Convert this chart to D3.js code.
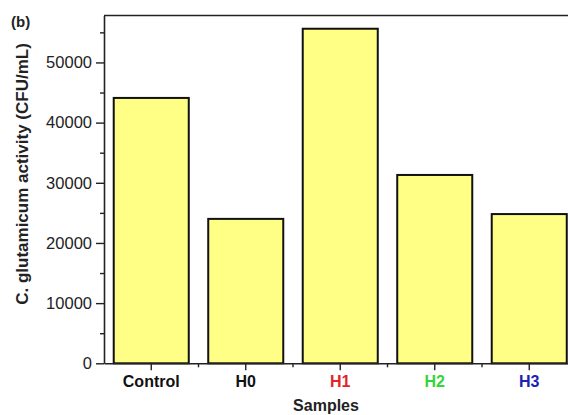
<!DOCTYPE html>
<html>
<head>
<meta charset="utf-8">
<script src="https://cdn.jsdelivr.net/npm/d3@7"></script>
<style>
  html, body { margin: 0; padding: 0; background: #fff; }
  svg { display: block; font-family: "Liberation Sans", Arial, sans-serif; }
</style>
</head>
<body>
<svg id="chart" width="568" height="415"></svg>
<script>
// Viable cell counts per sample
const samples = ["Control", "H0", "H1", "H2", "H3"];
const activity = [44100, 24000, 55600, 31300, 24800];
const labelColors = ["#111111", "#111111", "#e0242a", "#35d43a", "#1c22b4"];
const yTicks = [0, 10000, 20000, 30000, 40000, 50000];
const yMinorTicks = [5000, 15000, 25000, 35000, 45000, 55000];

(function () {
  const svg = d3.select("#chart");
  const plotLeft = 104, plotTop = 15.5, plotBottom = 363.3, plotRight = 576.5;

  const x = d3.scaleBand()
    .domain(samples)
    .range([plotLeft, plotRight])
    .paddingInner(0.206)
    .paddingOuter(0.103);

  const y = d3.scaleLinear()
    .domain([0, 57800])
    .range([plotBottom, plotTop]);

  // bars
  svg.append("g")
    .selectAll("rect")
    .data(samples)
    .join("rect")
    .attr("x", d => x(d))
    .attr("y", (d, i) => y(activity[i]))
    .attr("width", x.bandwidth())
    .attr("height", (d, i) => y(0) - y(activity[i]))
    .attr("fill", "#ffff86")
    .attr("stroke", "#111")
    .attr("stroke-width", 2);

  // frame (top line)
  svg.append("line")
    .attr("x1", plotLeft).attr("x2", 568)
    .attr("y1", plotTop).attr("y2", plotTop)
    .attr("stroke", "#222").attr("stroke-width", 1.6);

  // left axis
  const yAxis = svg.append("g")
    .attr("transform", `translate(${plotLeft},0)`)
    .call(d3.axisLeft(y).tickValues(yTicks).tickSize(8).tickSizeOuter(0).tickPadding(4).tickFormat(d3.format("d")));
  yAxis.select(".domain").attr("stroke", "#222").attr("stroke-width", 1.6);
  yAxis.selectAll(".tick line").attr("stroke", "#222").attr("stroke-width", 1.4);
  yAxis.selectAll(".tick text")
    .attr("font-size", 16.5)
    .attr("fill", "#222")
    .attr("font-family", "Liberation Sans, Arial, sans-serif");

  svg.append("g")
    .attr("transform", `translate(${plotLeft},0)`)
    .call(d3.axisLeft(y).tickValues(yMinorTicks).tickSize(4).tickFormat(""))
    .call(g => g.select(".domain").remove())
    .selectAll(".tick line").attr("stroke", "#222").attr("stroke-width", 1.4);

  // bottom axis
  const xAxis = svg.append("g")
    .attr("transform", `translate(0,${plotBottom})`)
    .call(d3.axisBottom(x).tickSize(7).tickSizeOuter(0).tickPadding(5));
  xAxis.select(".domain").attr("stroke", "#222").attr("stroke-width", 1.6);
  xAxis.selectAll(".tick line").attr("stroke", "#222").attr("stroke-width", 1.4);
  xAxis.selectAll(".tick text")
    .attr("font-size", 16)
    .attr("font-weight", "bold")
    .attr("font-family", "Liberation Sans, Arial, sans-serif")
    .attr("fill", (d, i) => labelColors[i]);

  // minor ticks between sample groups
  const boundaries = samples.slice(1).map(d => x(d) - x.step() * x.paddingInner() / 2);
  svg.append("g")
    .selectAll("line")
    .data(boundaries)
    .join("line")
    .attr("x1", d => d).attr("x2", d => d)
    .attr("y1", plotBottom).attr("y2", plotBottom + 4)
    .attr("stroke", "#222").attr("stroke-width", 1.4);

  // axis titles
  svg.append("text")
    .attr("x", 326).attr("y", 411)
    .attr("text-anchor", "middle")
    .attr("font-size", 16).attr("font-weight", "bold").attr("fill", "#222")
    .text("Samples");

  svg.append("text")
    .attr("transform", "translate(28,174) rotate(-90)")
    .attr("text-anchor", "middle")
    .attr("font-size", 17).attr("font-weight", "bold").attr("fill", "#222")
    .text("C. glutamicum activity (CFU/mL)");

  svg.append("text")
    .attr("x", 11).attr("y", 27)
    .attr("font-size", 15).attr("font-weight", "bold").attr("fill", "#222")
    .text("(b)");
})();
</script>
</body>
</html>
